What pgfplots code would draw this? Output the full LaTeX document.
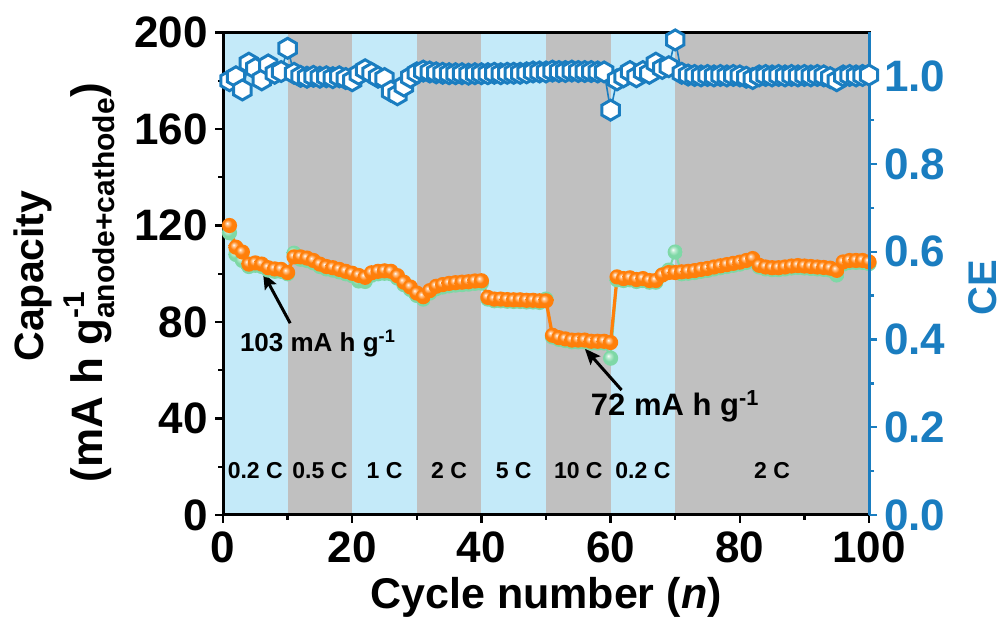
\documentclass[border=0pt]{standalone}
\usepackage{fontspec}
\setmainfont{Liberation Sans}
\usepackage{pgfplots}
\usepackage{pgfplotstable}
\pgfplotsset{compat=1.18}
\usetikzlibrary{arrows.meta}

\definecolor{bandblue}{HTML}{C4EAF9}
\definecolor{bandgray}{HTML}{C0C0C0}
\definecolor{ceblue}{HTML}{1A7DC0}
\definecolor{orng}{HTML}{FF7F0A}
\definecolor{grn}{HTML}{7ED8A6}

\pgfdeclareradialshading{orangeball}{\pgfpoint{-8bp}{8bp}}{color(0bp)=(white); color(5bp)=(white!55!orng); color(14bp)=(orng); color(50bp)=(orng)}
\pgfdeclareradialshading{greenball}{\pgfpoint{-8bp}{8bp}}{color(0bp)=(white); color(6bp)=(white!50!grn); color(16bp)=(grn); color(50bp)=(grn)}
\pgfdeclareplotmark{oball}{\pgfpathcircle{\pgfpointorigin}{\pgfplotmarksize}\pgfshadepath{orangeball}{0}\pgfusepath{}}
\pgfdeclareplotmark{gball}{\pgfpathcircle{\pgfpointorigin}{\pgfplotmarksize}\pgfshadepath{greenball}{0}\pgfusepath{}}
\pgfdeclareplotmark{hexa}{%
  \pgfpathmoveto{\pgfqpointpolar{90}{\pgfplotmarksize}}%
  \pgfpathlineto{\pgfqpointpolar{150}{\pgfplotmarksize}}%
  \pgfpathlineto{\pgfqpointpolar{210}{\pgfplotmarksize}}%
  \pgfpathlineto{\pgfqpointpolar{270}{\pgfplotmarksize}}%
  \pgfpathlineto{\pgfqpointpolar{330}{\pgfplotmarksize}}%
  \pgfpathlineto{\pgfqpointpolar{30}{\pgfplotmarksize}}%
  \pgfpathclose\pgfusepathqfillstroke}

\pgfplotstableread{
n cap
1 120
2 111
3 109
4 104
5 104.5
6 104
7 102.5
8 102
9 101.8
10 100.5
11 107
12 107
13 106.5
14 105.5
15 104
16 103
17 102.5
18 101.8
19 101
20 100.2
21 99.3
22 98.5
23 100.4
24 101
25 101.2
26 101
27 99.2
28 96.5
29 94.5
30 92
31 90.5
32 93
33 94.8
34 95.5
35 96
36 96.3
37 96.5
38 96.7
39 97
40 97.1
41 90.2
42 89.5
43 89.5
44 89.3
45 89.2
46 89.2
47 89
48 89
49 88.8
50 88.8
51 74.5
52 73.5
53 73
54 72.5
55 72.5
56 72.5
57 72
58 72
59 72
60 71.5
61 98.7
62 98
63 98.3
64 97.6
65 98
66 97.2
67 97.2
68 99.5
69 100.5
70 100.5
71 100.8
72 101
73 101.3
74 101.8
75 102.2
76 102.8
77 103.3
78 103.8
79 104.3
80 104.8
81 105.5
82 106.3
83 103.5
84 102.8
85 102.5
86 102.5
87 102.8
88 103.2
89 103.4
90 103.2
91 103
92 102.8
93 102.6
94 102.3
95 101.4
96 104.9
97 105.5
98 105.5
99 105.5
100 104.9
}\orangedata

\pgfplotstableread{
n cap
1 117
2 108
3 105.5
4 103
5 103.5
6 103
7 101.5
8 101
9 101
10 100
11 108.5
12 106
13 105.5
14 104.5
15 103
16 102
17 101.5
18 100.8
19 100
20 99.2
21 97
22 96.8
23 99.4
24 100
25 100.2
26 100
27 98.2
28 95.5
29 93.5
30 91
31 89.5
32 92
33 93.8
34 94.5
35 95
36 95.3
37 95.5
38 95.7
39 96
40 96.1
41 89.5
42 88.8
43 88.8
44 88.6
45 88.5
46 88.5
47 88.3
48 88.3
49 88.1
50 89.5
51 73.8
52 72.8
53 72.3
54 71.8
55 71.8
56 71.8
57 71.3
58 71.3
59 71.3
60 65
61 97.5
62 97.2
63 97.5
64 96.8
65 97.2
66 96.5
67 96.5
68 99.5
69 101.5
70 109
71 100
72 100.2
73 100.5
74 101
75 101.4
76 102
77 102.5
78 103
79 103.5
80 104
81 104.7
82 105.5
83 102.8
84 102
85 101.7
86 101.7
87 102
88 102.4
89 102.6
90 102.4
91 102.2
92 102
93 101.8
94 101.5
95 99.5
96 104
97 104.7
98 104.7
99 104.7
100 104.2
}\greendata

\pgfplotstableread{
n ce
1 0.990
2 0.999
3 0.969
4 1.030
5 1.018
6 0.992
7 1.026
8 1.007
9 1.011
10 1.064
11 1.007
12 1.000
13 0.998
14 1.000
15 0.998
16 0.999
17 0.997
18 0.999
19 0.995
20 0.990
21 1.005
22 1.015
23 1.007
24 0.998
25 0.995
26 0.966
27 0.958
28 0.978
29 0.998
30 1.008
31 1.012
32 1.010
33 1.008
34 1.007
35 1.006
36 1.006
37 1.006
38 1.005
39 1.006
40 1.006
41 1.006
42 1.007
43 1.006
44 1.007
45 1.007
46 1.007
47 1.008
48 1.010
49 1.010
50 1.010
51 1.012
52 1.011
53 1.011
54 1.012
55 1.011
56 1.011
57 1.011
58 1.010
59 1.010
60 0.923
61 0.992
62 0.999
63 1.011
64 0.999
65 1.011
66 1.007
67 1.030
68 1.018
69 1.022
70 1.083
71 1.007
72 1.003
73 1.002
74 1.001
75 1.002
76 1.001
77 1.002
78 1.001
79 1.002
80 1.001
81 0.998
82 0.995
83 1.001
84 1.002
85 1.001
86 1.002
87 1.001
88 1.002
89 1.001
90 1.002
91 1.001
92 1.002
93 1.001
94 0.997
95 0.990
96 1.001
97 1.002
98 1.001
99 1.002
100 1.003
}\cedata

\begin{document}
\begin{tikzpicture}
\path[use as bounding box] (0,0) rectangle (502pt,312pt);
\begin{axis}[
  at={(111.5pt,54.5pt)}, anchor=south west, scale only axis,
  width=323pt, height=241.25pt,
  xmin=0, xmax=100, ymin=0, ymax=200,
  xtick={0,20,40,60,80,100}, minor xtick={10,30,50,70,90},
  ytick={0,40,80,120,160,200}, minor ytick={20,60,100,140,180},
  xtick pos=bottom, ytick pos=left, tick align=outside,
  major tick length=4pt, minor tick length=2.5pt,
  every tick/.style={black, line width=1.2pt},
  axis line style={line width=1.5pt},
  tick label style={font=\fontsize{22}{22}\selectfont\bfseries},
  xticklabel style={yshift=-1pt},
  /pgf/number format/assume math mode=true,
  axis on top, clip=false,
]
\fill[bandblue] (axis cs:0,0) rectangle (axis cs:10,200);
\fill[bandgray] (axis cs:10,0) rectangle (axis cs:20,200);
\fill[bandblue] (axis cs:20,0) rectangle (axis cs:30,200);
\fill[bandgray] (axis cs:30,0) rectangle (axis cs:40,200);
\fill[bandblue] (axis cs:40,0) rectangle (axis cs:50,200);
\fill[bandgray] (axis cs:50,0) rectangle (axis cs:60,200);
\fill[bandblue] (axis cs:60,0) rectangle (axis cs:70,200);
\fill[bandgray] (axis cs:70,0) rectangle (axis cs:100,200);
\addplot[grn, line width=1pt, mark=gball, mark size=3.8pt] table[x=n,y=cap] {\greendata};
\addplot[orng, line width=1.6pt, mark=oball, mark size=3.8pt] table[x=n,y=cap] {\orangedata};
\begin{scope}[font=\fontsize{11.5}{11.5}\selectfont\bfseries]
\node at (axis cs:5,18.6) {0.2 C};
\node at (axis cs:15,18.6) {0.5 C};
\node at (axis cs:25,18.6) {1 C};
\node at (axis cs:35,18.6) {2 C};
\node at (axis cs:45,18.6) {5 C};
\node at (axis cs:55,18.6) {10 C};
\node at (axis cs:65,18.6) {0.2 C};
\node at (axis cs:85,18.6) {2 C};
\end{scope}
\draw[-{Stealth[length=8pt,width=6.5pt,inset=1.5pt]}, line width=1.5pt] (axis cs:10.4,79.5) -- (axis cs:6.2,100.3);
\node[font=\fontsize{13}{13}\selectfont\bfseries] at (axis cs:14.7,71.2) {103 mA h g\textsuperscript{-1}};
\draw[-{Stealth[length=8pt,width=6.5pt,inset=1.5pt]}, line width=1.5pt] (axis cs:61.7,51.8) -- (axis cs:56.0,69.0);
\node[font=\fontsize{15.5}{15.5}\selectfont\bfseries] at (axis cs:70,45.1) {72 mA h g\textsuperscript{-1}};
\end{axis}
\begin{axis}[
  at={(111.5pt,54.5pt)}, anchor=south west, scale only axis,
  width=323pt, height=241.25pt,
  xmin=0, xmax=100, ymin=0, ymax=1.1,
  axis x line=none, axis y line*=right,
  y axis line style={ceblue, line width=1.5pt, -},
  ytick={0,0.2,0.4,0.6,0.8,1.0}, minor ytick={0.1,0.3,0.5,0.7,0.9},
  tick align=outside, major tick length=4pt, minor tick length=2.5pt,
  every tick/.style={ceblue, line width=1.2pt},
  yticklabel style={ceblue, font=\fontsize{22}{22}\selectfont\bfseries,
    /pgf/number format/.cd, fixed, fixed zerofill, precision=1},
  /pgf/number format/assume math mode=true,
  clip=false,
]
\addplot[ceblue, line width=0.8pt, mark=hexa, mark size=5pt,
  mark options={fill=white, draw=ceblue, line width=1.5pt, solid}] table[x=n,y=ce] {\cedata};
\end{axis}
\node[rotate=90, anchor=base, font=\fontsize{20.5}{20.5}\selectfont\bfseries] at (21.5pt,174pt) {Capacity};
\node[rotate=90, anchor=base, font=\fontsize{22}{22}\selectfont\bfseries] at (51pt,170.5pt)
  {(mA h g\rlap{\raisebox{0.75ex}{\fontsize{15}{15}\selectfont -1}}\raisebox{-0.55ex}{\fontsize{15}{15}\selectfont anode+cathode})};
\node[rotate=90, anchor=base, text=ceblue, font=\fontsize{20}{20}\selectfont\bfseries] at (498pt,168pt) {CE};
\node[anchor=base, font=\fontsize{21.5}{21.5}\selectfont\bfseries] at (273pt,7.5pt) {Cycle number (\textit{n})};
\end{tikzpicture}
\end{document}
